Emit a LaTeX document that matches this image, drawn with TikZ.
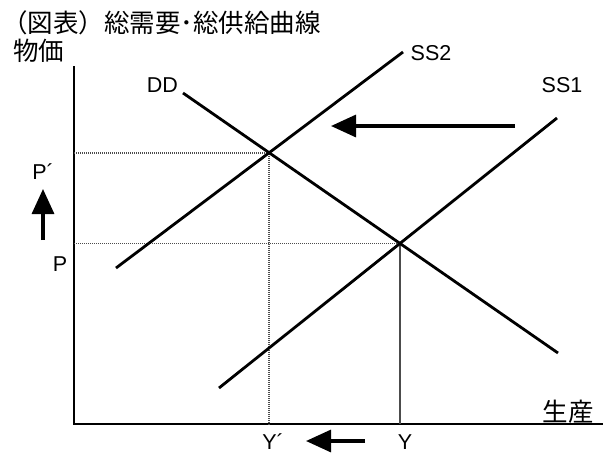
\documentclass[tikz,border=0pt]{standalone}
\usepackage{fontspec}
\setmainfont{Liberation Sans}
\newfontfamily\jpfont{Noto Sans CJK JP}
\usetikzlibrary{arrows.meta}
\tikzset{
  axisline/.style={line width=2.7pt},
  curve/.style={line width=2.8pt},
  guide/.style={line width=1.8pt, black!70, dash pattern=on 1.2pt off 0.8pt},
  bigarrow/.style={line width=3.2pt, -{Triangle[length=25pt,width=22pt]}},
  lbl/.style={inner sep=0pt, font=\fontsize{21.5}{21.5}\selectfont},
  jlbl/.style={inner sep=0pt, font=\jpfont\fontsize{25.5}{25.5}\selectfont},
}
\begin{document}
\begin{tikzpicture}[x=1pt,y=-1pt]
\useasboundingbox (0,0) rectangle (609,453);
% axes
\coordinate (O) at (74,424);
\coordinate (ytop) at (74,66);
\coordinate (xend) at (603,424);
\draw[axisline] (ytop) -- (O) -- (xend);
% curves
\coordinate (dd1) at (183,93);
\coordinate (dd2) at (558,353);
\coordinate (s21) at (116,268);
\coordinate (s22) at (403,52);
\coordinate (s11) at (219,388);
\coordinate (s12) at (557,118);
\coordinate (E2) at (intersection of dd1--dd2 and s21--s22);
\coordinate (E1) at (intersection of dd1--dd2 and s11--s12);
% guides
\draw[guide] (E2 -| O) -- (E2) -- (E2 |- O);
\draw[guide] (E1 -| O) -- (E1) -- (E1 |- O);
\draw[curve] (dd1) -- (dd2);
\draw[curve] (s21) -- (s22);
\draw[curve] (s11) -- (s12);
% arrows
\coordinate (a1) at (515,126);
\coordinate (a2) at (331,126);
\draw[bigarrow] (a1) -- (a2);
\coordinate (b1) at (43,240);
\coordinate (b2) at (43,189);
\draw[bigarrow] (b1) -- (b2);
\coordinate (c1) at (365,441);
\coordinate (c2) at (306,441);
\draw[bigarrow] (c1) -- (c2);
% labels
\node[jlbl, anchor=west] (title) at (2,23) {（図表）総需要･総供給曲線};
\node[jlbl, anchor=west] (price) at (13,51) {物価};
\node[jlbl] (prod) at (568,412) {生産};
\node[lbl] (DD) at (162.5,85) {DD};
\node[lbl] (SS2) at (431,53) {SS2};
\node[lbl] (SS1) at (562,85) {SS1};
\node[lbl] (Pp) at (43,172) {P´};
\node[lbl] (P) at (60,264) {P};
\node[lbl] (Yp) at (273,442) {Y´};
\node[lbl] (Y) at (405,442) {Y};
\end{tikzpicture}
\end{document}
